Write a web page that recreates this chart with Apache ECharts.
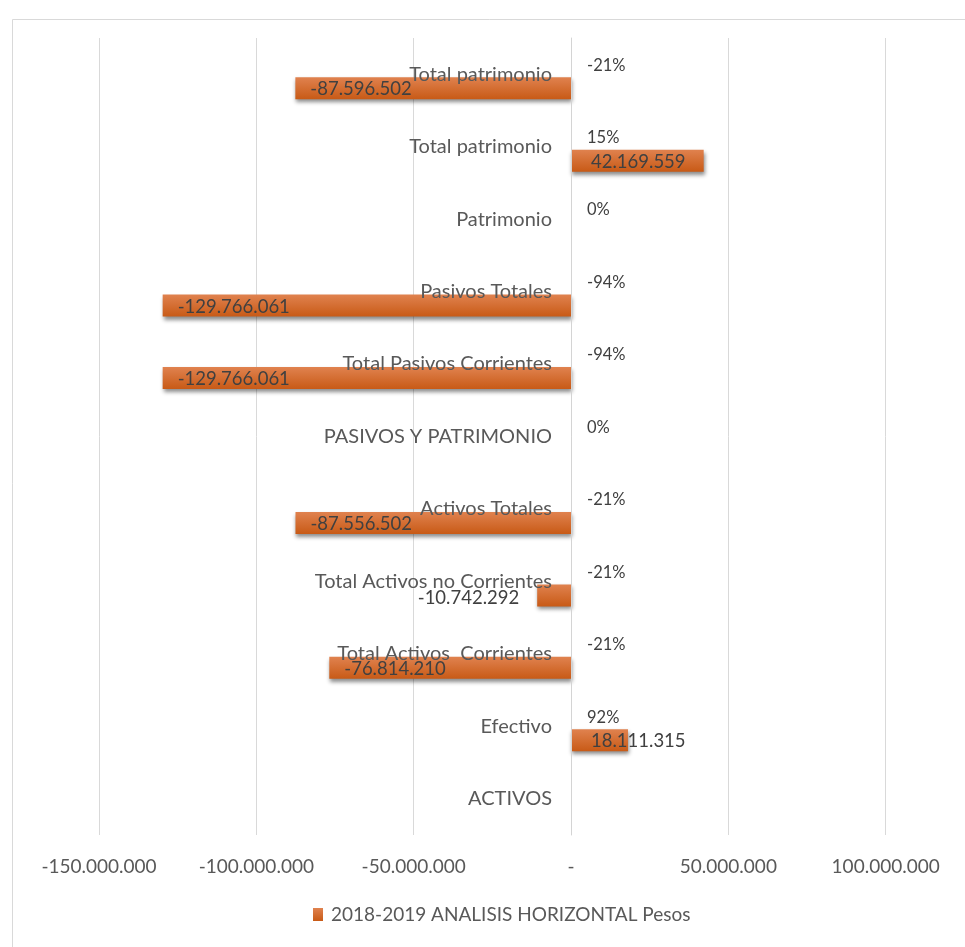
<!DOCTYPE html>
<html>
<head>
<meta charset="utf-8">
<script src="https://cdn.jsdelivr.net/npm/echarts@6/dist/echarts.min.js"></script>
<style>html,body{margin:0;padding:0;background:#fff}#c{width:965px;height:947px}</style>
</head>
<body>
<div id="c"></div>
<script>
// Categories listed bottom to top
const categories = ["ACTIVOS", "Efectivo", "Total Activos  Corrientes", "Total Activos no Corrientes", "Activos Totales", "PASIVOS Y PATRIMONIO", "Total Pasivos Corrientes", "Pasivos Totales", "Patrimonio", "Total patrimonio", "Total patrimonio"];
const pesosValues = [null, 18111315, -76814210, -10742292, -87556502, null, -129766061, -129766061, null, 42169559, -87596502];
const percentValues = [null, 0.92, -0.21, -0.21, -0.21, 0, -0.94, -0.94, 0, 0.15, -0.21];
const xTicks = [-150000000, -100000000, -50000000, 0, 50000000, 100000000, 150000000];
const seriesName = "2018-2019 ANALISIS HORIZONTAL Pesos";

const FONT = "Lato";
const GRID_LEFT = 99;
function fmt(v) {
  if (v === 0) return "-";
  const s = Math.abs(Math.round(v)).toString().replace(/\B(?=(\d{3})+(?!\d))/g, ".");
  return (v < 0 ? "-" : "") + s;
}

const pesosData = pesosValues.map(v => {
  if (v === null) return { value: null, label: { show: false } };
  let label;
  if (v > 0) label = { position: "insideLeft", distance: 20, offset: [0, 1] };
  else if (Math.abs(v) < 30000000) label = { position: "left", distance: 18, offset: [0, 3] };
  else label = { position: "insideLeft", distance: 15, offset: [0, 1] };
  return { value: v, label: label };
});

const chart = echarts.init(document.getElementById("c"), null, { renderer: "canvas" });
chart.setOption({
  animation: false,
  backgroundColor: "#ffffff",
  textStyle: { fontFamily: FONT },
  graphic: [{
    type: "rect", left: 10, top: 17, z: -10,
    shape: { width: 1000, height: 1000 },
    style: { fill: "none", stroke: "#d9d9d9", lineWidth: 1 }
  }],
  grid: { left: GRID_LEFT, top: 38, width: 944, height: 797, containLabel: false, outerBoundsMode: "none" },
  legend: {
    data: [seriesName],
    bottom: 18, left: 308,
    itemWidth: 10, itemHeight: 13, itemGap: 6,
    icon: "rect",
    textStyle: { color: "#595959", fontSize: 19, fontFamily: FONT, padding: [0, 0, 0, 3] }
  },
  xAxis: {
    type: "value",
    min: xTicks[0], max: xTicks[xTicks.length - 1], interval: 50000000,
    axisLine: { show: false, onZero: false }, axisTick: { show: false },
    splitLine: { show: true, lineStyle: { color: "#d9d9d9", width: 1 } },
    axisLabel: {
      color: "#595959", fontSize: 19, margin: 22, fontFamily: FONT,
      formatter: v => fmt(v)
    }
  },
  yAxis: {
    type: "category",
    data: categories,
    z: 10,
    axisLine: { show: true, onZero: true, lineStyle: { color: "#d4d4d4" } },
    axisTick: { show: false },
    splitLine: { show: false },
    axisLabel: { color: "#595959", fontSize: 20, margin: 19, fontFamily: FONT }
  },
  series: [
    {
      name: "Porcentaje",
      type: "bar",
      data: percentValues,
      barWidth: 22,
      barGap: "27%",
      itemStyle: { color: "rgba(0,0,0,0)" },
      label: {
        show: true, position: "right", distance: 16, offset: [0, 5],
        color: "#404040", fontSize: 16.5, fontFamily: FONT,
        formatter: p => (p.value === null || p.value === undefined) ? "" : Math.round(p.value * 100) + "%"
      },
      z: 5
    },
    {
      name: seriesName,
      type: "bar",
      data: pesosData,
      barWidth: 22,
      barGap: "27%",
      itemStyle: {
        color: new echarts.graphic.LinearGradient(0, 0, 0, 1, [
          { offset: 0, color: "#e0824f" },
          { offset: 1, color: "#c85a16" }
        ]),
        shadowColor: "rgba(0,0,0,0.45)", shadowBlur: 4, shadowOffsetX: 1, shadowOffsetY: 3
      },
      label: {
        show: true, color: "#404040", fontSize: 18.5, fontFamily: FONT,
        formatter: p => fmt(p.value)
      },
      z: 3
    }
  ]
});
// Put the category axis at the value axis' zero (as in the original chart)
const zeroX = chart.convertToPixel({ xAxisIndex: 0 }, 0);
chart.setOption({ yAxis: { offset: -(zeroX - GRID_LEFT) } });
</script>
</body>
</html>
